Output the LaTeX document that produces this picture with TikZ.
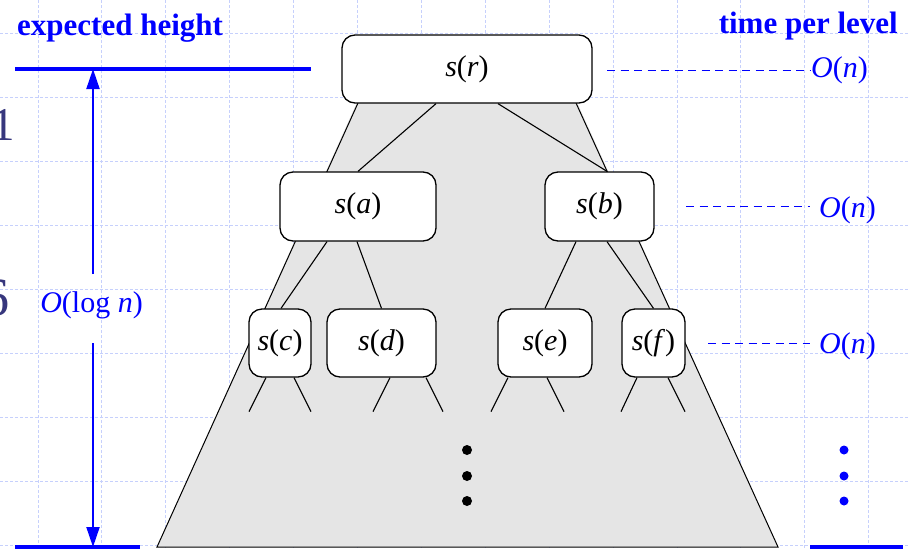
\documentclass[tikz,border=0pt]{standalone}
\usepackage{fontspec}
\setmainfont{Liberation Serif}
\usetikzlibrary{arrows.meta}
\definecolor{pblue}{RGB}{0,0,255}
\definecolor{gridc}{RGB}{198,208,252}
\definecolor{treeg}{RGB}{229,229,229}
\definecolor{slate}{RGB}{55,55,125}
\begin{document}
\begin{tikzpicture}[x=1pt,y=-1pt,
  snode/.style={draw,fill=white,rounded corners=13pt,line width=1.3pt,inner sep=0pt,
                font=\fontsize{30}{36}\selectfont},
  tedge/.style={line width=1.1pt,black},
  gridline/.style={gridc,line width=0.9pt,dash pattern=on 3pt off 2pt},
  bluebar/.style={pblue,line width=4pt},
  dimarrow/.style={pblue,line width=2pt,-{Triangle[length=20pt,width=13pt]}},
  dashlvl/.style={pblue,line width=1pt,dash pattern=on 8pt off 5.5pt},
  mathlbl/.style={pblue,inner sep=0pt,font=\fontsize{30}{36}\selectfont},
  headlbl/.style={pblue,inner sep=0pt,font=\fontsize{31}{36}\selectfont\bfseries},
  cutlbl/.style={slate,inner sep=0pt,anchor=base west}
]
\useasboundingbox (0,0) rectangle (909,549);
% background grid
\foreach \i in {0,...,13} \draw[gridline] ({38+63.9*\i},0) -- ({38+63.9*\i},549);
\foreach \j in {0,...,8} \draw[gridline] (0,{33+64*\j}) -- (909,{33+64*\j});
% cut-off glyphs on the left edge
\node[cutlbl,font=\fontsize{47}{50}\selectfont] (g1) at (-8.5,140) {1};
\node[cutlbl,font=\fontsize{54}{56}\selectfont] (g6) at (-18,315) {6};
% tree region
\fill[treeg] (358,100) -- (576,100) -- (778,547) -- (157,547) -- cycle;
\draw[line width=1pt] (358,103) -- (157,547) -- (778,547) -- (576,103);
% nodes
\node[snode,minimum width=250pt,minimum height=68pt] (r) at (467,69) {\textit{s}(\textit{r})};
\node[snode,minimum width=156pt,minimum height=69pt] (a) at (358,206.5) {\textit{s}(\textit{a})};
\node[snode,minimum width=109pt,minimum height=69pt] (b) at (599.5,206.5) {\textit{s}(\textit{b})};
\node[snode,minimum width=62pt,minimum height=68pt] (c) at (280,343) {\textit{s}(\textit{c})};
\node[snode,minimum width=109pt,minimum height=68pt] (d) at (381.5,343) {\textit{s}(\textit{d})};
\node[snode,minimum width=94pt,minimum height=68pt] (e) at (545,343) {\textit{s}(\textit{e})};
\node[snode,minimum width=63pt,minimum height=68pt] (f) at (653.5,343) {\textit{s}(\textit{f})};
% tree edges
\draw[tedge] ([xshift=-31pt]r.south) -- (a.north);
\draw[tedge] ([xshift=31pt]r.south) -- ([xshift=7.5pt]b.north);
\draw[tedge] ([xshift=-31pt]a.south) -- ([xshift=1pt]c.north);
\draw[tedge] ([xshift=-1pt]a.south) -- (d.north);
\draw[tedge] ([xshift=-23.5pt]b.south) -- (e.north);
\draw[tedge] ([xshift=7.5pt]b.south) -- (f.north);
% stubs
\draw[tedge] ([xshift=-14pt]c.south) -- ++(-17,34);
\draw[tedge] ([xshift=14pt]c.south) -- ++(17,34);
\draw[tedge] ([xshift=8.5pt]d.south) -- ++(-17,34);
\draw[tedge] ([xshift=44.5pt]d.south) -- ++(17,34);
\draw[tedge] ([xshift=-37pt]e.south) -- ++(-17,34);
\draw[tedge] ([xshift=2pt]e.south) -- ++(17,34);
\draw[tedge] ([xshift=-16.5pt]f.south) -- ++(-16,34);
\draw[tedge] ([xshift=14.5pt]f.south) -- ++(17,34);
% black dots
\foreach \y in {450,476,501} \fill (467,\y) circle (5pt);
% left: expected height
\node[headlbl,anchor=base west] (eh) at (17,35) {expected height};
\draw[bluebar] (15,69) -- (311,69);
\draw[bluebar] (15,547) -- (140,547);
\coordinate (ht) at (93,69);
\coordinate (hb) at (93,547);
\node[mathlbl,anchor=base] (lg) at (91.5,312) {\textit{O}(log \textit{n})};
\coordinate (lt) at (93,274);
\coordinate (lb) at (93,343);
\draw[dimarrow] (lt) -- (ht);
\draw[dimarrow] (lb) -- (hb);
% right: time per level
\node[headlbl,anchor=base east] (tl) at (898,33) {time per level};
\node[mathlbl,anchor=base west] (on0) at (811,77) {\textit{O}(\textit{n})};
\node[mathlbl,anchor=base west] (on1) at (819,217) {\textit{O}(\textit{n})};
\node[mathlbl,anchor=base west] (on2) at (819,353) {\textit{O}(\textit{n})};
\coordinate (d0) at (607,70);
\coordinate (d1) at (686,206);
\coordinate (d2) at (708,343);
\draw[dashlvl] (d0) -- (d0 -| on0.west);
\draw[dashlvl] (d1) -- ([xshift=-9pt]d1 -| on1.west);
\draw[dashlvl] (d2) -- ([xshift=-9pt]d2 -| on2.west);
\foreach \y in {450,476,501} \fill[pblue] (844,\y) circle (4.5pt);
\draw[bluebar] (810,547) -- (903,547);
\end{tikzpicture}
\end{document}
